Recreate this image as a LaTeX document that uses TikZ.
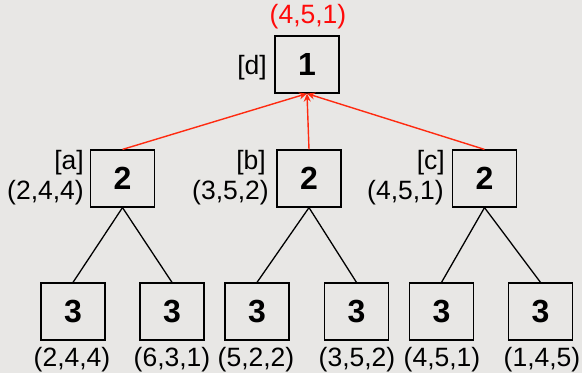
\documentclass[tikz,border=0pt]{standalone}
\usepackage{fontspec}
\setmainfont{Liberation Sans}
\usetikzlibrary{arrows.meta}
\definecolor{bg}{HTML}{E8E7E5}
\definecolor{redline}{HTML}{FF2A10}
\definecolor{redtext}{HTML}{FF0A0A}
\tikzstyle{box}=[fill=bg, draw=black, shape=rectangle, line width=1.2pt, minimum width=64pt, minimum height=57pt, inner sep=0pt, font=\fontsize{32}{34}\selectfont\bfseries]
\tikzstyle{lab}=[inner sep=0pt, font=\fontsize{26.5}{28}\selectfont]
\tikzstyle{up}=[draw=redline, line width=1.4pt, -{Stealth[length=8pt, width=7pt]}]

\begin{document}
\begin{tikzpicture}[x=1pt, y=-1pt]
		\fill [bg] (0, 0) rectangle (582, 373);
		\useasboundingbox (0, 0) rectangle (582, 373);

		\node [style=box] (1) at (307, 64.5) {1};
		\node [style=box] (2) at (122.5, 178.5) {2};
		\node [style=box] (3) at (309, 178.5) {2};
		\node [style=box] (4) at (484.5, 178.5) {2};
		\node [style=box] (5) at (73, 311.5) {3};
		\node [style=box] (6) at (172, 311.5) {3};
		\node [style=box] (7) at (257, 311.5) {3};
		\node [style=box] (8) at (356.5, 311.5) {3};
		\node [style=box] (9) at (441.5, 311.5) {3};
		\node [style=box] (10) at (540.5, 311.5) {3};

		\node [style=lab, text=redtext] (11) at (308, 17) {(4,5,1)};
		\node [style=lab, anchor=east] (12) at (267, 68) {[d]};
		\node [style=lab, anchor=east] (13) at (84, 163) {[a]};
		\node [style=lab, anchor=east] (14) at (84, 193) {(2,4,4)};
		\node [style=lab, anchor=east] (15) at (266, 163) {[b]};
		\node [style=lab, anchor=east] (16) at (269, 193) {(3,5,2)};
		\node [style=lab, anchor=east] (17) at (445, 163) {[c]};
		\node [style=lab, anchor=east] (18) at (444, 193) {(4,5,1)};
		\node [style=lab] (19) at (72, 360) {(2,4,4)};
		\node [style=lab] (20) at (172, 360) {(6,3,1)};
		\node [style=lab] (21) at (256, 360) {(5,2,2)};
		\node [style=lab] (22) at (357, 360) {(3,5,2)};
		\node [style=lab] (23) at (442, 360) {(4,5,1)};
		\node [style=lab] (24) at (542, 360) {(1,4,5)};

		\draw [line width=1.3pt] (2.south) to (5.north);
		\draw [line width=1.3pt] (2.south) to (6.north);
		\draw [line width=1.3pt] (3.south) to (7.north);
		\draw [line width=1.3pt] (3.south) to (8.north);
		\draw [line width=1.3pt] (4.south) to (9.north);
		\draw [line width=1.3pt] (4.south) to (10.north);

		\draw [style=up] (2.north) to (1.south);
		\draw [style=up] (3.north) to (1.south);
		\draw [style=up] (4.north) to (1.south);
	\end{tikzpicture}
\end{document}
